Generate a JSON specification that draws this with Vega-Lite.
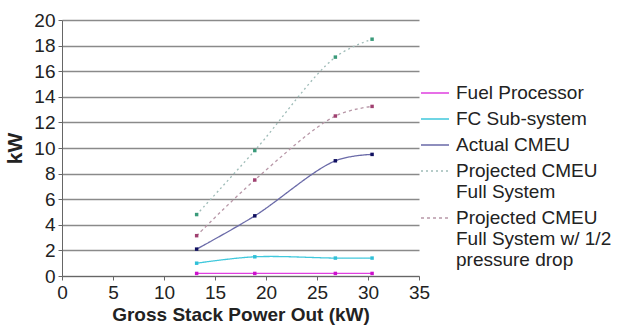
{
  "$schema": "https://vega.github.io/schema/vega-lite/v6.json",
  "width": 357,
  "height": 256,
  "autosize": {"type": "none"},
  "padding": {"left": 62, "top": 20, "right": 200, "bottom": 52},
  "background": "white",
  "config": {
    "font": "Liberation Sans",
    "view": {"stroke": null},
    "axis": {
      "labelFont": "Liberation Sans",
      "labelFontSize": 19,
      "labelColor": "#222",
      "titleFont": "Liberation Sans",
      "titleFontWeight": "bold",
      "titleColor": "#222",
      "domainColor": "#666",
      "tickColor": "#666",
      "tickSize": 4,
      "gridColor": "#8a8a8a",
      "gridWidth": 1.3
    }
  },
  "data": {
    "values": [
      {"series": "Fuel Processor", "power": 13.2, "kw": 0.2},
      {"series": "Fuel Processor", "power": 18.9, "kw": 0.2},
      {"series": "Fuel Processor", "power": 26.8, "kw": 0.2},
      {"series": "Fuel Processor", "power": 30.4, "kw": 0.2},
      {"series": "FC Sub-system", "power": 13.2, "kw": 1.0},
      {"series": "FC Sub-system", "power": 18.9, "kw": 1.5},
      {"series": "FC Sub-system", "power": 26.8, "kw": 1.4},
      {"series": "FC Sub-system", "power": 30.4, "kw": 1.4},
      {"series": "Actual CMEU", "power": 13.2, "kw": 2.1},
      {"series": "Actual CMEU", "power": 18.9, "kw": 4.7},
      {"series": "Actual CMEU", "power": 26.8, "kw": 9.0},
      {"series": "Actual CMEU", "power": 30.4, "kw": 9.5},
      {"series": "Projected CMEU Full System", "power": 13.2, "kw": 4.8},
      {"series": "Projected CMEU Full System", "power": 18.9, "kw": 9.8},
      {"series": "Projected CMEU Full System", "power": 26.8, "kw": 17.1},
      {"series": "Projected CMEU Full System", "power": 30.4, "kw": 18.5},
      {"series": "Projected CMEU Full System w/ 1/2 pressure drop", "power": 13.2, "kw": 3.15},
      {"series": "Projected CMEU Full System w/ 1/2 pressure drop", "power": 18.9, "kw": 7.5},
      {"series": "Projected CMEU Full System w/ 1/2 pressure drop", "power": 26.8, "kw": 12.5},
      {"series": "Projected CMEU Full System w/ 1/2 pressure drop", "power": 30.4, "kw": 13.25}
    ]
  },
  "encoding": {
    "x": {
      "field": "power",
      "type": "quantitative",
      "scale": {"domain": [0, 35], "nice": false},
      "axis": {
        "title": "Gross Stack Power Out (kW)",
        "titleFontSize": 19,
        "titlePadding": 3,
        "values": [0, 5, 10, 15, 20, 25, 30, 35],
        "grid": false,
        "labelPadding": 3,
        "labelFlush": false
      }
    },
    "y": {
      "field": "kw",
      "type": "quantitative",
      "scale": {"domain": [0, 20], "nice": false},
      "axis": {
        "title": "kW",
        "titleFontSize": 21,
        "titlePadding": 8,
        "values": [0, 2, 4, 6, 8, 10, 12, 14, 16, 18, 20],
        "grid": true,
        "labelPadding": 3
      }
    }
  },
  "layer": [
    {
      "mark": {"type": "line", "interpolate": "catmull-rom", "strokeWidth": 1.3},
      "encoding": {
        "color": {
          "field": "series",
          "type": "nominal",
          "scale": {
            "domain": ["Fuel Processor", "FC Sub-system", "Actual CMEU", "Projected CMEU Full System", "Projected CMEU Full System w/ 1/2 pressure drop"],
            "range": ["#e040e0", "#40c8dc", "#6a6aa8", "#9fbcb8", "#b898a8"]
          },
          "legend": {
            "title": null,
            "orient": "none",
            "legendX": 358,
            "legendY": 58,
            "padding": 0,
            "symbolType": "stroke",
            "symbolSize": 784,
            "symbolStrokeWidth": 1.3,
            "labelFont": "Liberation Sans",
            "labelFontSize": 19,
            "labelColor": "#222",
            "labelLimit": 0,
            "labelOffset": 6,
            "rowPadding": 1,
            "labelExpr": "datum.label == 'Projected CMEU Full System' ? ['Projected CMEU', 'Full System'] : datum.label == 'Projected CMEU Full System w/ 1/2 pressure drop' ? ['Projected CMEU', 'Full System w/ 1/2', 'pressure drop'] : datum.label"
          }
        },
        "strokeDash": {
          "field": "series",
          "type": "nominal",
          "scale": {
            "domain": ["Fuel Processor", "FC Sub-system", "Actual CMEU", "Projected CMEU Full System", "Projected CMEU Full System w/ 1/2 pressure drop"],
            "range": [[1, 0], [1, 0], [1, 0], [2, 3], [3, 3]]
          },
          "legend": null
        }
      }
    },
    {
      "mark": {"type": "point", "shape": "square", "filled": true, "size": 12, "opacity": 1},
      "encoding": {
        "fill": {
          "field": "series",
          "type": "nominal",
          "scale": {
            "domain": ["Fuel Processor", "FC Sub-system", "Actual CMEU", "Projected CMEU Full System", "Projected CMEU Full System w/ 1/2 pressure drop"],
            "range": ["#cc10cc", "#30c0d8", "#101060", "#3a9a7a", "#a04070"]
          },
          "legend": null
        }
      }
    }
  ]
}
